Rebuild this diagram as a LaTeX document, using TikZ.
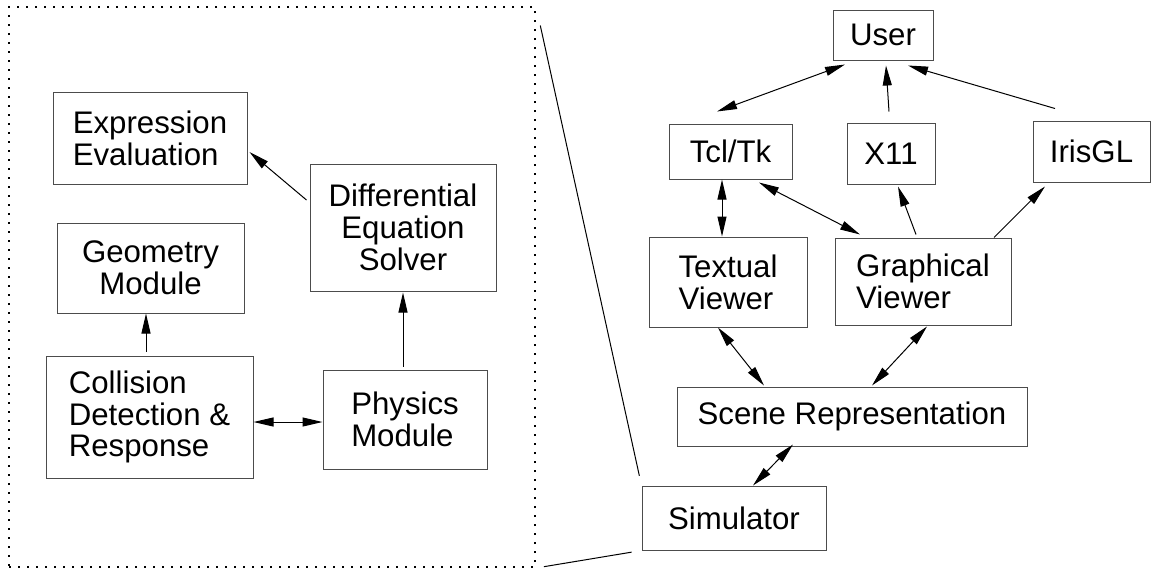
\documentclass[tikz,border=0pt]{standalone}
\usepackage{fontspec}
\setmainfont{Liberation Sans}
\usepackage{tikz}
\usetikzlibrary{arrows.meta,calc}
\definecolor{boxline}{rgb}{0.3, 0.3, 0.3}
\tikzstyle{block}=[draw=boxline,line width=0.5pt,inner sep=0pt,align=left,font=\fontsize{15.6}{15.9}\selectfont]
\tikzstyle{link}=[line width=0.5pt,-{Triangle[length=10pt,width=4.5pt]}]
\tikzstyle{both}=[line width=0.5pt,{Triangle[length=10pt,width=4.5pt]}-{Triangle[length=10pt,width=4.5pt]}]
\tikzstyle{zoomline}=[line width=0.5pt]

\begin{document}
\begin{tikzpicture}[x=0.5pt,y=-0.5pt]
\useasboundingbox (0,0) rectangle (1151,569);

\node[draw,line width=1pt,dash pattern=on 1pt off 3.5pt,inner sep=0pt,minimum width=263pt,minimum height=280pt] (frame) at (272,287) {};

\node[block,minimum width=97pt,minimum height=46pt] (ee) at (150,138) {Expression\\Evaluation};
\node[block,align=center,minimum width=93pt,minimum height=63.5pt] (des) at (403,227.5) {Differential\\Equation\\Solver};
\node[block,align=center,minimum width=93.5pt,minimum height=45pt] (gm) at (150.5,268) {Geometry\\Module};
\node[block,minimum width=103.5pt,minimum height=61pt] (cdr) at (149.5,417) {Collision\\Detection \&\\Response};
\node[block,minimum width=82pt,minimum height=49.5pt] (pm) at (405,419.5) {Physics\\Module};

\node[block,minimum width=50pt,minimum height=25pt] (user) at (883,35) {User};
\node[block,minimum width=61.5pt,minimum height=27.5pt] (tcl) at (730.5,151.5) {Tcl/Tk};
\node[block,minimum width=44pt,minimum height=30.5pt] (x11) at (891,153.5) {X11};
\node[block,minimum width=58.5pt,minimum height=30.5pt] (iris) at (1091.5,151.5) {IrisGL};
\node[block,minimum width=79pt,minimum height=45pt] (tv) at (728,282) {Textual\\Viewer};
\node[block,minimum width=88pt,minimum height=43.5pt] (gv) at (923,281.5) {Graphical\\Viewer};
\node[block,minimum width=175pt,minimum height=29.5pt] (sr) at (852,416.5) {Scene Representation};
\node[block,minimum width=92pt,minimum height=32pt] (sim) at (734,518) {Simulator};

\draw[link] ($(des.west)+(-3,-27.5)$) -- ($(ee.east)+(2,14)$);
\draw[link] ($(cdr.north)+(-3.5,-4)$) -- ($(gm.south)+(-4.5,0)$);
\draw[both] ($(cdr.east)+(0,5)$) -- ($(pm.west)+(0,2.5)$);
\draw[link] ($(pm.north)+(-2,-3)$) -- ($(des.south)+(0,1)$);

\draw[both] ($(tcl.north)+(-13.5,-12)$) -- ($(user.south)+(-38,4)$);
\draw[link] ($(x11.north)+(-2,-11)$) -- ($(user.south)+(3,5)$);
\draw[link] ($(iris.north)+(-36.5,-12)$) -- ($(user.south)+(25,5)$);
\draw[both] ($(tcl.south)+(-8.5,0)$) -- ($(tv.north)+(-6,0)$);
\draw[both] ($(tcl.south)+(28.5,3)$) -- ($(gv.north)+(-63,-3)$);
\draw[link] ($(gv.north)+(-7,-3)$) -- ($(x11.south)+(7,2)$);
\draw[link] ($(gv.north)+(71,0)$) -- ($(iris.south)+(-46.5,4)$);
\draw[both] ($(tv.south)+(-10,0)$) -- ($(sr.north)+(-88,-1)$);
\draw[both] ($(gv.south)+(4,1)$) -- ($(sr.north)+(20,-1)$);
\draw[both] ($(sr.south)+(-59,-2)$) -- ($(sim.north)+(19,0)$);

\draw[zoomline,shorten <=10pt,shorten >=5pt] (frame.north east) -- (sim.north west);
\draw[zoomline,shorten <=4pt,shorten >=5pt] (frame.south east) -- (sim.south west);

\end{tikzpicture}
\end{document}
